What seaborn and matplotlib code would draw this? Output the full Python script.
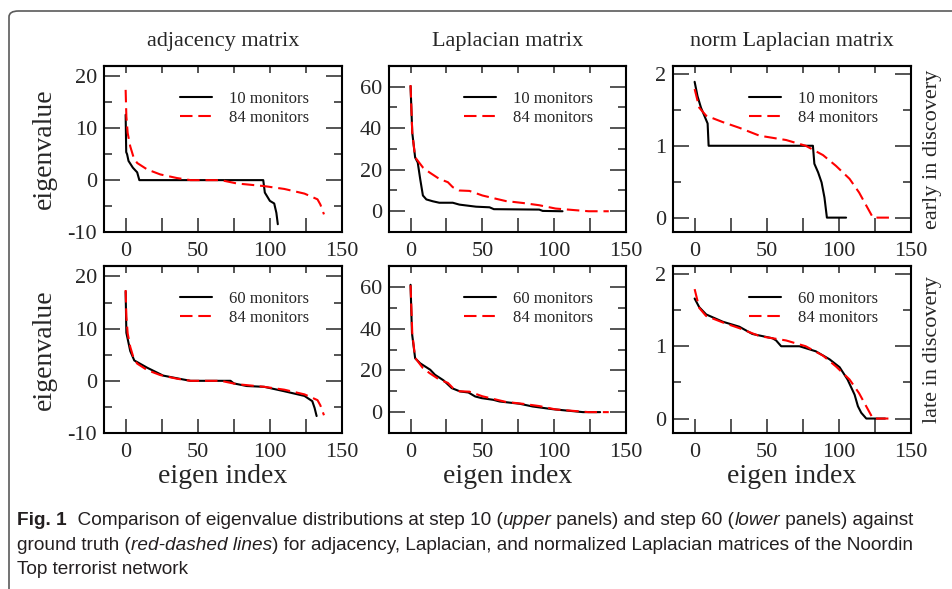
import matplotlib
matplotlib.use('Agg')
import matplotlib.pyplot as plt
from matplotlib.ticker import MultipleLocator
from matplotlib.patches import FancyBboxPatch
import seaborn as sns

# eigenvalue curves (index, eigenvalue)
adj_true_x = [0, 0.5, 1.4, 3.2, 5.6, 8, 15, 24, 35.6, 45, 66, 77, 96, 110, 124, 133, 135, 137.5]
adj_true_y = [17.4, 12.3, 9.1, 6.5, 4.3, 3.3, 2.05, 1.1, 0.4, 0, 0, -0.64, -1.15, -1.7, -2.6, -3.7, -4.7, -6.6]
adj_10_x = [0, 0.4, 1, 2, 5, 8, 9.5, 95.4, 96.5, 100, 103, 104.5, 105.5]
adj_10_y = [12.6, 5.4, 5.0, 3.7, 2.4, 1.5, 0, 0, -2.4, -4, -4.5, -6.3, -8.5]
adj_60_x = [0, 0.5, 3.2, 6, 15, 26, 40, 45, 72.7, 75, 84, 96, 110, 124, 129.4, 131, 132.4]
adj_60_y = [17.1, 9.2, 5.7, 3.9, 2.5, 1.0, 0.25, 0, 0, -0.5, -1.0, -1.15, -2, -2.9, -3.9, -5.2, -6.75]

lap_true_x = [0, 1.2, 3.2, 8.6, 13.2, 20, 26, 29.4, 34, 41, 50, 59.6, 66.4, 78, 89.6, 101, 115, 124, 138]
lap_true_y = [60.8, 37.8, 26, 21.1, 18.7, 15.6, 14, 11.6, 10, 9.8, 7.6, 6, 4.9, 4.0, 2.9, 1.3, 0.5, 0, 0]
lap_10_x = [0, 1.2, 3.2, 5, 6.7, 8.6, 11, 15.5, 20, 29.4, 34, 45.6, 55, 58, 89.6, 92, 105.8]
lap_10_y = [60.3, 37.8, 25.9, 23.5, 15.6, 7.6, 5.7, 4.8, 4.1, 4.1, 3.2, 2.2, 1.9, 1.0, 0.8, 0.16, 0]
lap_60_x = [0, 1, 3.2, 6.7, 13.7, 17, 23, 28.7, 34.5, 40.3, 45, 49.5, 57.6, 62, 76, 85, 99, 111, 120, 132]
lap_60_y = [61, 37.8, 25.8, 23.4, 20.3, 17.9, 15.2, 11.5, 9.9, 9.4, 7.5, 6.7, 5.9, 5.1, 4.0, 2.7, 1.4, 0.6, 0, 0]

norm_true_x = [0, 3.2, 7.9, 19.4, 31, 45, 63.4, 77, 89, 98, 107.4, 114, 123.6, 137.5]
norm_true_y = [1.79, 1.53, 1.42, 1.33, 1.25, 1.14, 1.08, 1.0, 0.87, 0.72, 0.54, 0.35, 0, 0]
norm_10_x = [0, 2, 4.4, 6.7, 9, 9.7, 82, 83, 85.6, 88, 90, 91.7, 105]
norm_10_y = [1.89, 1.69, 1.53, 1.42, 1.31, 1.0, 1.0, 0.75, 0.63, 0.49, 0.28, 0, 0]
norm_60_x = [0, 3.2, 8, 19.4, 31, 40, 54, 56.5, 60, 72.7, 84, 93.5, 100.5, 106, 110.9, 113.2, 115.5, 119, 132]
norm_60_y = [1.66, 1.54, 1.44, 1.34, 1.27, 1.17, 1.11, 1.08, 1.0, 1.0, 0.93, 0.82, 0.71, 0.54, 0.33, 0.17, 0.08, 0, 0]

titles = ['adjacency matrix', 'Laplacian matrix', 'norm Laplacian matrix']
row_labels = ['early in discovery', 'late in discovery']
monitors = ['10 monitors', '60 monitors']
truth_label = '84 monitors'

sns.set_style('ticks')
plt.rcParams['font.family'] = ['Liberation Serif', 'DejaVu Serif']
plt.rcParams['axes.unicode_minus'] = False

W, H = 952, 589
fig = plt.figure(figsize=(W / 100, H / 100), dpi=100)

def fx(x):
    return x / W

def fy(y):
    return 1 - y / H

col_left = [104, 389, 673]
col_w = [238, 237, 238]
row_top = [66, 266]
row_h = [166, 167]

truth = [(adj_true_x, adj_true_y), (lap_true_x, lap_true_y), (norm_true_x, norm_true_y)]
est = [[(adj_10_x, adj_10_y), (lap_10_x, lap_10_y), (norm_10_x, norm_10_y)],
       [(adj_60_x, adj_60_y), (lap_60_x, lap_60_y), (norm_60_x, norm_60_y)]]
ylims = [(-10, 22), (-10, 70), (-0.2, 2.11)]
ymajor = [10, 20, 1]

for r in range(2):
    for c in range(3):
        ax = fig.add_axes([fx(col_left[c]), fy(row_top[r] + row_h[r]), fx(col_w[c]), row_h[r] / H])
        bx, by = est[r][c]
        tx, ty = truth[c]
        sns.lineplot(x=bx, y=by, ax=ax, color='black', lw=1.5, estimator=None, sort=False,
                     label=monitors[r])
        sns.lineplot(x=tx, y=ty, ax=ax, color='red', lw=1.5, estimator=None, sort=False,
                     label=truth_label, linestyle=(0, (6, 2.8)))
        ax.set_xlim(-15, 150)
        ax.set_ylim(*ylims[c])
        ax.xaxis.set_major_locator(MultipleLocator(50))
        ax.xaxis.set_minor_locator(MultipleLocator(25))
        ax.yaxis.set_major_locator(MultipleLocator(ymajor[c]))
        ax.yaxis.set_minor_locator(MultipleLocator(ymajor[c] / 2))
        ax.tick_params(axis='x', which='both', direction='in', length=10, width=1.1,
                       top=False, labelsize=16, pad=7.5)
        ax.tick_params(axis='y', which='major', direction='in', length=11.5, width=1.1,
                       right=True, labelsize=16, pad=5)
        ax.tick_params(axis='y', which='minor', direction='in', length=5.8, width=1.1, right=True)
        sec = ax.secondary_xaxis('top')
        sec.xaxis.set_major_locator(MultipleLocator(50))
        sec.xaxis.set_minor_locator(MultipleLocator(25))
        sec.tick_params(which='both', direction='in', length=5, width=1.1, labeltop=False)
        sec.spines['top'].set_linewidth(1.5)
        for s in ax.spines.values():
            s.set_linewidth(1.5)
            s.set_color('black')
        ax.set_xlabel('')
        ax.set_ylabel('')
        ax.legend(loc='upper right', bbox_to_anchor=(0.86, 0.851), frameon=False, fontsize=12,
                  handlelength=1.9, handletextpad=1.0, labelspacing=0.17, borderpad=0,
                  borderaxespad=0)

for c in range(3):
    cx = col_left[c] + col_w[c] / 2
    fig.text(fx(cx), fy(46), titles[c], fontsize=16, ha='center', va='baseline')
    fig.text(fx(cx), fy(483), 'eigen index', fontsize=20, ha='center', va='baseline')
for r in range(2):
    cy = row_top[r] + row_h[r] / 2
    fig.text(fx(44), fy(cy), 'eigenvalue', fontsize=20, rotation=90, ha='center', va='center')
    fig.text(fx(932), fy(cy), row_labels[r], fontsize=16, rotation=90, ha='center', va='center')

# outer frame of the figure box
frame = FancyBboxPatch((fx(9), -0.2), 1.2, fy(11) + 0.2, boxstyle='round,pad=0,rounding_size=0.01',
                       transform=fig.transFigure, fill=False, edgecolor='#5a5a5a', lw=1.2,
                       clip_on=False)
fig.patches.append(frame)

# caption with mixed bold / italic pieces
cap_font = ['Liberation Sans Narrow', 'Liberation Sans']
cap_size = 13.7
cap_color = '#231f20'
renderer = fig.canvas.get_renderer()

def seg_width(txt, **kw):
    t1 = fig.text(0, 0, '|' + txt + '|', fontsize=cap_size, family=cap_font, **kw)
    t2 = fig.text(0, 0, '||', fontsize=cap_size, family=cap_font, **kw)
    w = t1.get_window_extent(renderer).width - t2.get_window_extent(renderer).width
    t1.remove()
    t2.remove()
    return w

def caption_line(parts, x, y):
    for txt, kw in parts:
        fig.text(fx(x), fy(y), txt, fontsize=cap_size, family=cap_font, color=cap_color,
                 va='baseline', ha='left', **kw)
        x += seg_width(txt, **kw)

caption_line([('Fig. 1', dict(weight='bold')),
              ('  Comparison of eigenvalue distributions at step 10 (', {}),
              ('upper', dict(style='italic')),
              (' panels) and step 60 (', {}),
              ('lower', dict(style='italic')),
              (' panels) against', {})], 17, 525)
caption_line([('ground truth (', {}),
              ('red-dashed lines', dict(style='italic')),
              (') for adjacency, Laplacian, and normalized Laplacian matrices of the Noordin', {})],
             17, 550)
caption_line([('Top terrorist network', {})], 17, 574)

fig.savefig('out.png', dpi=100)
